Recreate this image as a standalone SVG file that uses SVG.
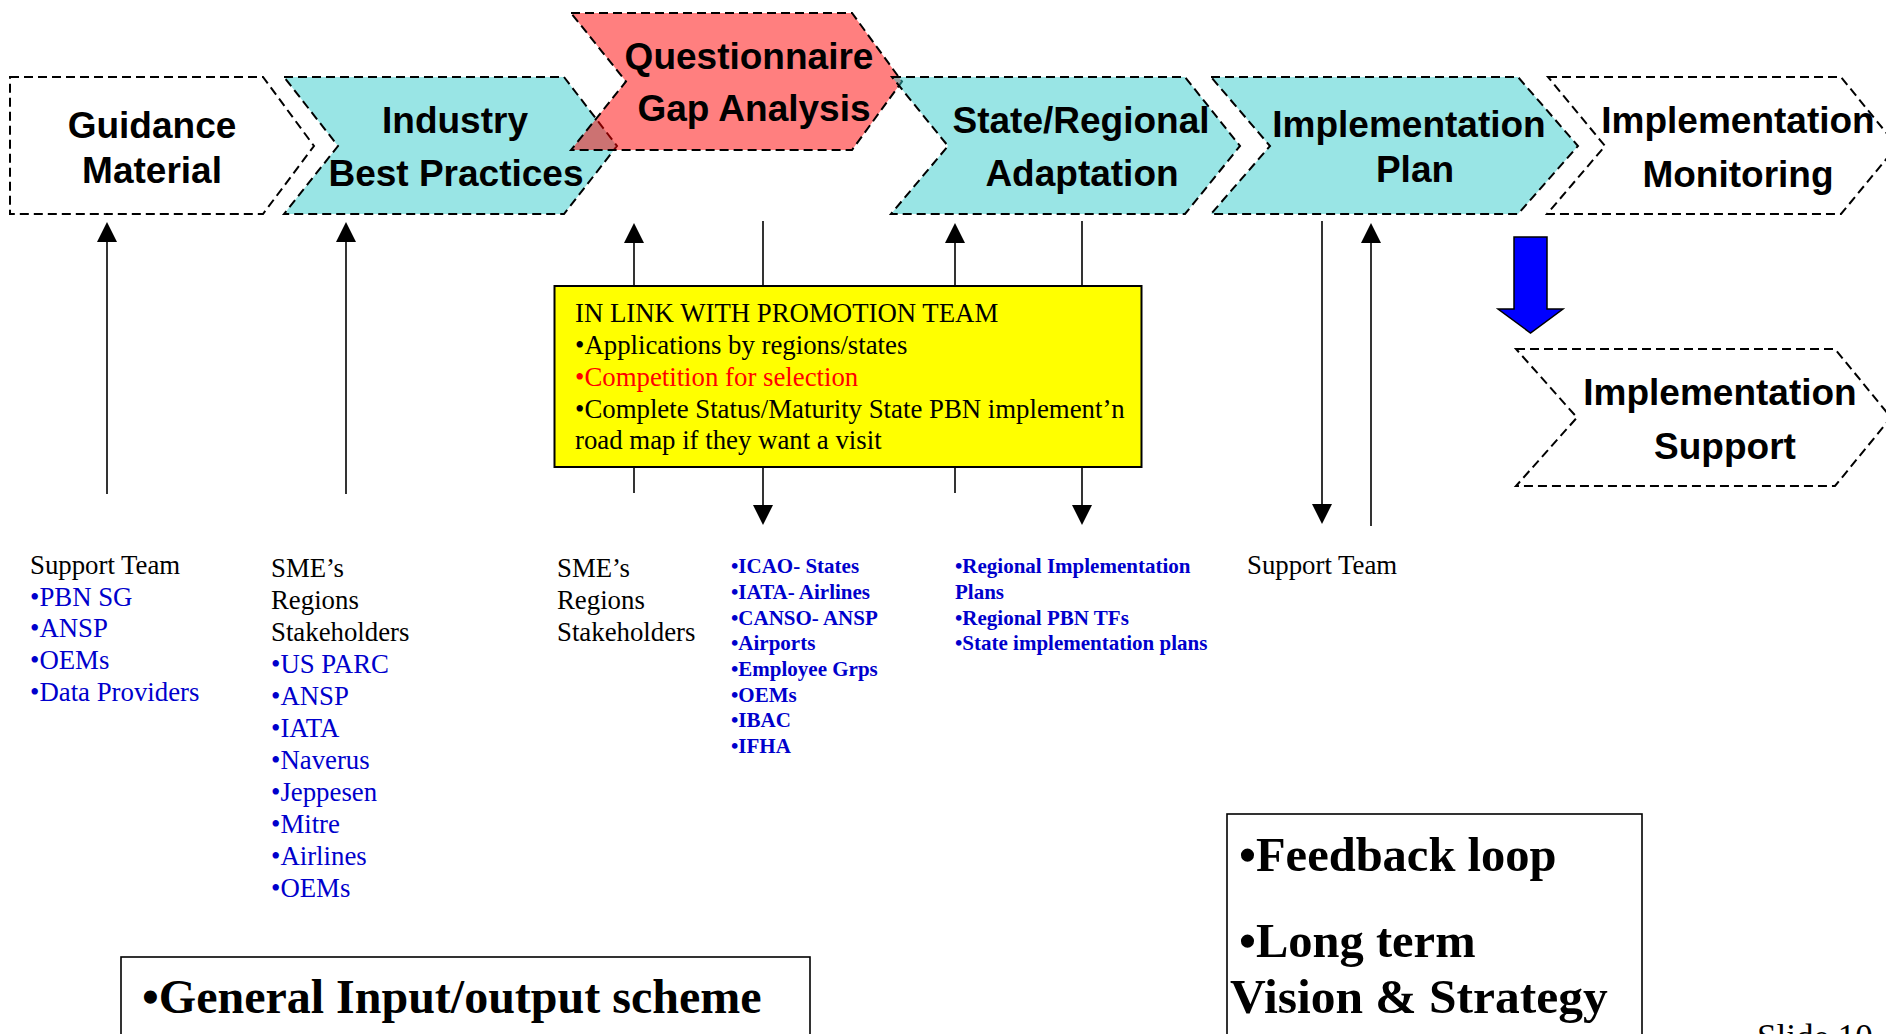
<svg xmlns="http://www.w3.org/2000/svg" width="1886" height="1034" viewBox="0 0 1886 1034">
  <defs>
    <marker id="ah" markerUnits="userSpaceOnUse" markerWidth="20" markerHeight="20" refX="17" refY="10" orient="auto">
      <path d="M0,0 L20,10 L0,20 Z" fill="#000"/>
    </marker>
    <style>
      .chev { stroke:#000; stroke-width:2; stroke-dasharray:9 5; stroke-linejoin:miter; }
      .plain { fill:#fff; }
      .cyan { fill:#33CCCC; fill-opacity:0.5; }
      .red { fill:#FF0000; fill-opacity:0.5; }
      .hdr { font-family:"Liberation Sans", Arial, sans-serif; font-weight:bold; font-size:37px; fill:#000; text-anchor:middle; }
      .conn { stroke:#000; stroke-width:1.6; fill:none; marker-end:url(#ah); }
      .tx { font-family:"Liberation Serif", "Times New Roman", serif; font-size:26.8px; fill:#000; }
      .blue { fill:#0000CC; }
      .bb { font-family:"Liberation Serif", "Times New Roman", serif; font-size:21px; font-weight:bold; fill:#0000CC; }
      .big { font-family:"Liberation Serif", "Times New Roman", serif; font-size:48.5px; font-weight:bold; fill:#000; }
      .box { fill:#fff; stroke:#000; stroke-width:1.6; }
    </style>
  </defs>

  <!-- process chevrons, drawn left to right so later shapes overlap earlier ones -->
  <g id="guidance-material">
    <polygon class="chev plain" points="10,77 263,77 314,146 263,214 10,214"/>
    <text class="hdr" x="152" y="138">Guidance</text>
    <text class="hdr" x="152" y="183">Material</text>
  </g>

  <g id="industry-best-practices">
    <polygon class="chev cyan" points="284,77 564,77 617,146 564,214 284,214 338,146"/>
    <text class="hdr" x="455" y="133">Industry</text>
    <text class="hdr" x="456" y="186">Best Practices</text>
  </g>

  <g id="questionnaire-gap-analysis">
    <polygon class="chev red" points="571,13 852,13 902,81.5 852,150 571,150 626,81.5"/>
    <text class="hdr" x="749" y="69">Questionnaire</text>
    <text class="hdr" x="754" y="121">Gap Analysis</text>
  </g>

  <g id="state-regional-adaptation">
    <polygon class="chev cyan" points="892,77 1185,77 1240,146 1185,214 891,214 948,146"/>
    <text class="hdr" x="1081" y="133">State/Regional</text>
    <text class="hdr" x="1082" y="186">Adaptation</text>
  </g>

  <g id="implementation-plan">
    <polygon class="chev cyan" points="1211,77 1518,77 1578,146 1518,214 1211,214 1270,146"/>
    <text class="hdr" x="1409" y="137">Implementation</text>
    <text class="hdr" x="1415" y="182">Plan</text>
  </g>

  <g id="implementation-monitoring">
    <polygon class="chev plain" points="1548,77 1841,77 1897,146 1841,214 1547,214 1605,146"/>
    <text class="hdr" x="1738" y="133">Implementation</text>
    <text class="hdr" x="1738" y="187">Monitoring</text>
  </g>

  <g id="implementation-support">
    <polygon class="chev plain" points="1516,349 1835,349 1891,417.5 1835,486 1516,486 1577,417.5"/>
    <text class="hdr" x="1720" y="405">Implementation</text>
    <text class="hdr" x="1725" y="459">Support</text>
  </g>

  <!-- input / output connectors -->
  <g id="connectors">
    <line class="conn" x1="107" y1="494" x2="107" y2="225"/>
    <line class="conn" x1="346" y1="494" x2="346" y2="225"/>
    <line class="conn" x1="634" y1="493" x2="634" y2="226"/>
    <line class="conn" x1="763" y1="221" x2="763" y2="522"/>
    <line class="conn" x1="955" y1="493" x2="955" y2="226"/>
    <line class="conn" x1="1082" y1="221" x2="1082" y2="522"/>
    <line class="conn" x1="1322" y1="221" x2="1322" y2="521"/>
    <line class="conn" x1="1371" y1="526" x2="1371" y2="226"/>
  </g>

  <!-- block arrow from monitoring down to support -->
  <g id="support-arrow">
    <polygon points="1514,237 1547,237 1547,309 1563,309 1530.5,333 1498,309 1514,309" fill="#0000FF" stroke="#000" stroke-width="1.5"/>
  </g>

  <g id="promotion-team-note">
    <rect x="554.5" y="286" width="587" height="181" fill="#FFFF00" stroke="#000" stroke-width="2"/>
    <text class="tx" x="575" y="322">IN LINK WITH PROMOTION TEAM</text>
    <text class="tx" x="575" y="354">•Applications by regions/states</text>
    <text class="tx" x="575" y="386" style="fill:#FF0000">•Competition for selection</text>
    <text class="tx" x="575" y="418">•Complete Status/Maturity State PBN implement’n</text>
    <text class="tx" x="575" y="449">road map if they want a visit</text>
  </g>

  <g id="guidance-inputs">
    <text class="tx" x="30" y="574">Support Team</text>
    <text class="tx blue" x="30" y="606">•PBN SG</text>
    <text class="tx blue" x="30" y="637">•ANSP</text>
    <text class="tx blue" x="30" y="669">•OEMs</text>
    <text class="tx blue" x="30" y="701">•Data Providers</text>
  </g>

  <g id="practices-inputs">
    <text class="tx" x="271" y="577">SME’s</text>
    <text class="tx" x="271" y="609">Regions</text>
    <text class="tx" x="271" y="641">Stakeholders</text>
    <text class="tx blue" x="271" y="673">•US PARC</text>
    <text class="tx blue" x="271" y="705">•ANSP</text>
    <text class="tx blue" x="271" y="737">•IATA</text>
    <text class="tx blue" x="271" y="769">•Naverus</text>
    <text class="tx blue" x="271" y="801">•Jeppesen</text>
    <text class="tx blue" x="271" y="833">•Mitre</text>
    <text class="tx blue" x="271" y="865">•Airlines</text>
    <text class="tx blue" x="271" y="897">•OEMs</text>
  </g>

  <g id="questionnaire-inputs">
    <text class="tx" x="557" y="577">SME’s</text>
    <text class="tx" x="557" y="609">Regions</text>
    <text class="tx" x="557" y="641">Stakeholders</text>
  </g>

  <g id="questionnaire-outputs">
    <text class="bb" x="731" y="573">•ICAO- States</text>
    <text class="bb" x="731" y="599">•IATA- Airlines</text>
    <text class="bb" x="731" y="625">•CANSO- ANSP</text>
    <text class="bb" x="731" y="650">•Airports</text>
    <text class="bb" x="731" y="676">•Employee Grps</text>
    <text class="bb" x="731" y="702">•OEMs</text>
    <text class="bb" x="731" y="727">•IBAC</text>
    <text class="bb" x="731" y="753">•IFHA</text>
  </g>

  <g id="adaptation-outputs">
    <text class="bb" x="955" y="573">•Regional Implementation</text>
    <text class="bb" x="955" y="599">Plans</text>
    <text class="bb" x="955" y="625">•Regional PBN TFs</text>
    <text class="bb" x="955" y="650">•State implementation plans</text>
  </g>

  <g id="plan-support-team">
    <text class="tx" x="1247" y="574">Support Team</text>
  </g>

  <g id="scheme-caption">
    <rect class="box" x="121" y="957" width="689" height="100"/>
    <text class="big" x="142" y="1013" style="font-size:48px">•General Input/output scheme</text>
  </g>

  <g id="feedback-note">
    <rect class="box" x="1227" y="814" width="415" height="240"/>
    <text class="big" x="1239" y="871">•Feedback loop</text>
    <text class="big" x="1239" y="957">•Long term</text>
    <text class="big" x="1230" y="1013" style="font-size:49.5px">Vision &amp; Strategy</text>
  </g>

  <text class="tx" x="1757" y="1049" style="font-size:35px">Slide 10</text>
</svg>
